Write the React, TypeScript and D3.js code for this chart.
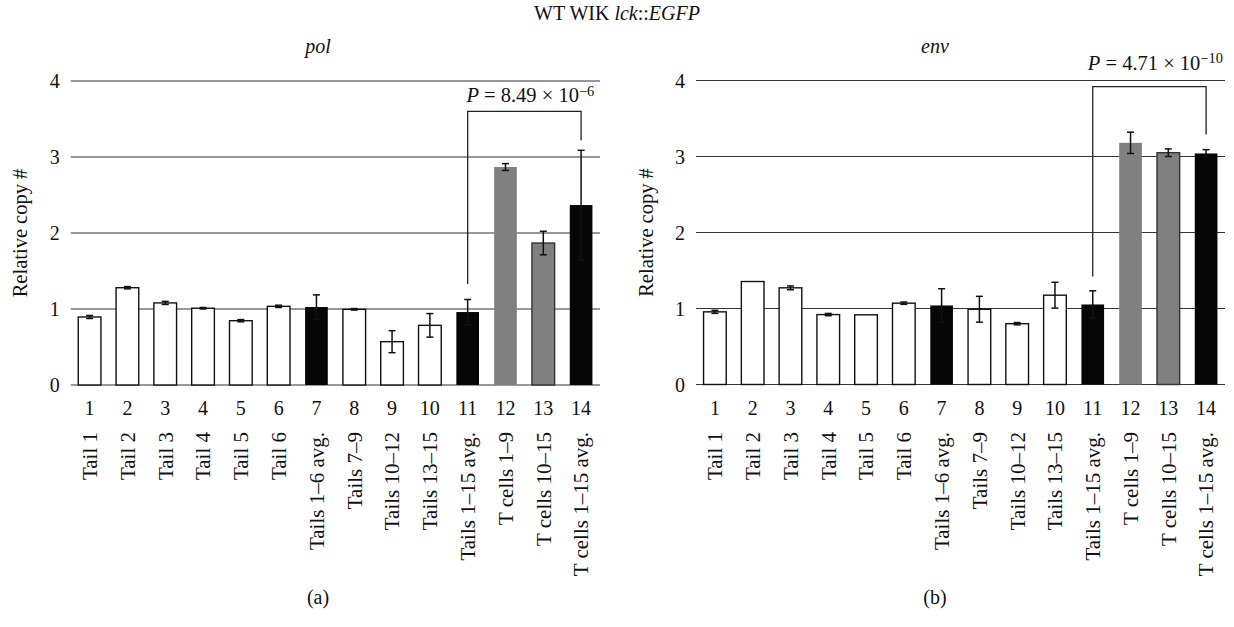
import React from "react";
import * as d3 from "d3";

// ---- data ----
const barNumbers = ["1", "2", "3", "4", "5", "6", "7", "8", "9", "10", "11", "12", "13", "14"];
const categories = [
  "Tail 1", "Tail 2", "Tail 3", "Tail 4", "Tail 5", "Tail 6",
  "Tails 1–6 avg.", "Tails 7–9", "Tails 10–12", "Tails 13–15",
  "Tails 1–15 avg.", "T cells 1–9", "T cells 10–15", "T cells 1–15 avg.",
];
const barKinds = [
  "open", "open", "open", "open", "open", "open", "black",
  "open", "open", "open", "black", "gray", "grayEdge", "black",
];
const polValues = [0.895, 1.28, 1.08, 1.01, 0.846, 1.035, 1.026, 0.996, 0.57, 0.785, 0.96, 2.868, 1.868, 2.368];
const polErrors = [0.02, 0.015, 0.02, 0.01, 0.015, 0.015, 0.16, 0.01, 0.145, 0.155, 0.165, 0.045, 0.155, 0.72];
const envValues = [0.956, 1.355, 1.272, 0.92, 0.917, 1.07, 1.04, 0.99, 0.80, 1.175, 1.053, 3.18, 3.05, 3.04];
const envErrors = [0.02, 0, 0.025, 0.015, 0, 0.015, 0.22, 0.17, 0.015, 0.17, 0.18, 0.14, 0.05, 0.05];
const yTicks = [0, 1, 2, 3, 4];

// significance brackets (data units): [left end, top, right end]
const polBracket = { from: 10, to: 13, leftEnd: 1.33, top: 3.6, rightEnd: 3.22, mant: "8.49", exp: "−6" };
const envBracket = { from: 10, to: 13, leftEnd: 1.42, top: 3.92, rightEnd: 3.29, mant: "4.71", exp: "−10" };

const FONT = "'Liberation Serif', 'Times New Roman', serif";

type PanelProps = {
  x0: number; x1: number; yBase: number; yTop: number;
  values: number[]; errors: number[]; title: string; letter: string;
  yTitleX: number; titleX: number;
  bracket: typeof polBracket; pTextDy: number;
};

function Panel(p: PanelProps) {
  const x = d3.scaleBand<string>().domain(barNumbers).range([p.x0, p.x1]).paddingInner(0.4).paddingOuter(0.2);
  const y = d3.scaleLinear().domain([0, 4]).range([p.yBase, p.yTop]);
  const bw = x.bandwidth();
  const cx = (i: number) => (x(barNumbers[i]) as number) + bw / 2;
  const br = p.bracket;
  const bx0 = cx(br.from), bx1 = cx(br.to);
  const bPath = d3.path();
  bPath.moveTo(bx0, y(br.leftEnd));
  bPath.lineTo(bx0, y(br.top));
  bPath.lineTo(bx1, y(br.top));
  bPath.lineTo(bx1, y(br.rightEnd));
  return (
    <g>
      <text x={p.titleX} y={53} textAnchor="middle" fontStyle="italic" fontSize={20}>{p.title}</text>
      {/* gridlines */}
      {yTicks.map((t) => (
        <g key={t}>
          <line x1={p.x0} x2={p.x1} y1={y(t)} y2={y(t)} stroke="#333" strokeWidth={1.2} />
          <text x={p.x0 - 11} y={y(t)} dy="0.35em" textAnchor="end" fontSize={20}>{t}</text>
        </g>
      ))}
      <text transform={`translate(${p.yTitleX},${(p.yBase + p.yTop) / 2}) rotate(-90)`} dy="0.35em" textAnchor="middle" fontSize={20.5}>Relative copy #</text>
      {/* bars */}
      {p.values.map((v, i) => {
        const k = barKinds[i];
        const fill = k === "open" ? "#fff" : k === "black" ? "#060606" : "#808080";
        const stroke = k === "open" ? "#111" : k === "grayEdge" ? "#333" : "none";
        return (
          <rect key={i} x={x(barNumbers[i])} y={y(v)} width={bw} height={y(0) - y(v)}
            fill={fill} stroke={stroke} strokeWidth={1.4} />
        );
      })}
      {/* error bars */}
      {p.values.map((v, i) => {
        const e = p.errors[i];
        if (!e) return null;
        const c = cx(i);
        return (
          <g key={i} stroke="#111" strokeWidth={1.5}>
            <line x1={c} x2={c} y1={y(v - e)} y2={y(v + e)} />
            <line x1={c - 3.5} x2={c + 3.5} y1={y(v + e)} y2={y(v + e)} />
            <line x1={c - 3.5} x2={c + 3.5} y1={y(v - e)} y2={y(v - e)} />
          </g>
        );
      })}
      {/* bracket */}
      <path d={bPath.toString()} fill="none" stroke="#222" strokeWidth={1.3} />
      <text x={(bx0 + bx1) / 2 + 6} y={y(br.top) + p.pTextDy} textAnchor="middle" fontSize={20.5}>
        <tspan fontStyle="italic">P</tspan>
        <tspan>{` = ${br.mant} × 10`}</tspan>
        <tspan dy="-0.45em" fontSize={14.5}>{br.exp}</tspan>
      </text>
      {/* category numbers and labels */}
      {barNumbers.map((n, i) => (
        <text key={n} x={cx(i)} y={415} textAnchor="middle" fontSize={20}>{n}</text>
      ))}
      {categories.map((c, i) => (
        <text key={c} transform={`translate(${cx(i)},432) rotate(-90)`} dy="0.35em" textAnchor="end" fontSize={21}>{c}</text>
      ))}
      <text x={p.titleX} y={604} textAnchor="middle" fontSize={20}>{p.letter}</text>
    </g>
  );
}

export default function App() {
  return (
    <svg width={1234} height={627} style={{ position: "absolute", left: 0, top: 0, background: "#fff" }}
      fontFamily={FONT} fill="#111">
      <rect width={1234} height={627} fill="#fff" />
      <text x={617} y={20} textAnchor="middle" fontSize={20}>
        WT WIK <tspan fontStyle="italic">lck</tspan>::<tspan fontStyle="italic">EGFP</tspan>
      </text>
      <Panel x0={70.7} x1={600} yBase={385} yTop={81} values={polValues} errors={polErrors}
        title="pol" letter="(a)" yTitleX={20} titleX={318} bracket={polBracket} pTextDy={-9} />
      <Panel x0={696} x1={1225} yBase={384.5} yTop={80.5} values={envValues} errors={envErrors}
        title="env" letter="(b)" yTitleX={646} titleX={935} bracket={envBracket} pTextDy={-17} />
    </svg>
  );
}
